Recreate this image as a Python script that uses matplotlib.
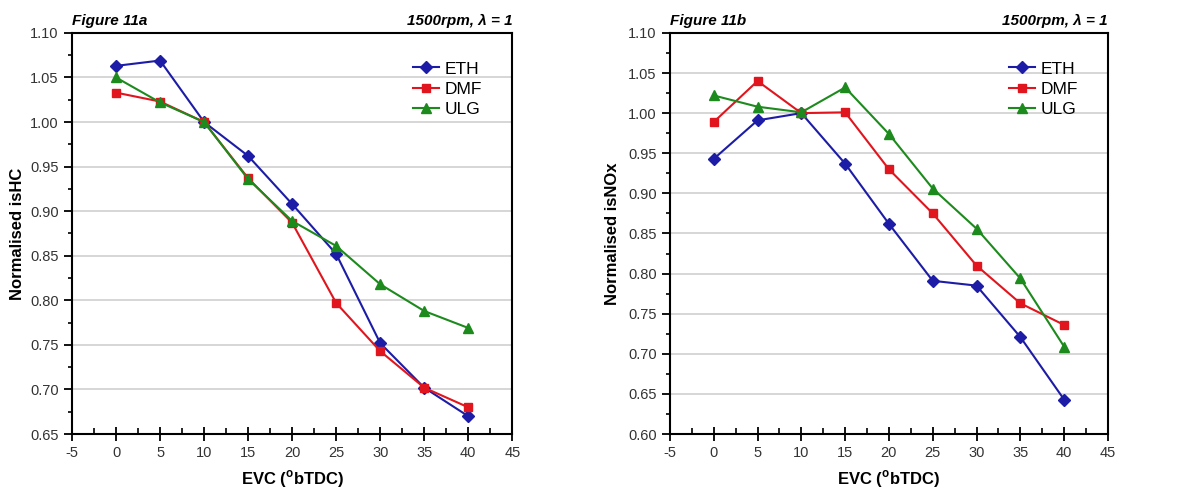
import matplotlib
matplotlib.use("Agg")
import matplotlib.pyplot as plt
from matplotlib.ticker import MultipleLocator, FormatStrFormatter

plt.rcParams['font.family'] = ['Liberation Sans', 'DejaVu Sans']
plt.rcParams['axes.unicode_minus'] = False

evc = [0, 5, 10, 15, 20, 25, 30, 35, 40]

hc_eth = [1.063, 1.069, 1.000, 0.962, 0.908, 0.852, 0.752, 0.702, 0.670]
hc_dmf = [1.033, 1.023, 1.000, 0.937, 0.887, 0.797, 0.743, 0.702, 0.680]
hc_ulg = [1.050, 1.022, 1.000, 0.936, 0.889, 0.861, 0.818, 0.788, 0.769]

nox_eth = [0.943, 0.991, 1.000, 0.937, 0.862, 0.791, 0.785, 0.721, 0.643]
nox_dmf = [0.989, 1.040, 1.000, 1.001, 0.930, 0.875, 0.810, 0.763, 0.736]
nox_ulg = [1.022, 1.008, 1.001, 1.032, 0.974, 0.906, 0.856, 0.794, 0.709]

series_names = ["ETH", "DMF", "ULG"]
colors = ["#1c1ca6", "#e0151d", "#1d8a1d"]
markers = ["D", "s", "^"]
msizes = [6, 5.5, 6.5]

fig = plt.figure(figsize=(11.9, 4.91), dpi=100)

panels = [
    dict(rect=[0.0605, 0.116, 0.370, 0.817], data=[hc_eth, hc_dmf, hc_ulg],
         ylim=(0.65, 1.10), ylabel="Normalised isHC", tag="Figure 11a", lp=4),
    dict(rect=[0.563, 0.116, 0.368, 0.817], data=[nox_eth, nox_dmf, nox_ulg],
         ylim=(0.60, 1.10), ylabel="Normalised isNOx", tag="Figure 11b", lp=6),
]

for p in panels:
    ax = fig.add_axes(p["rect"])
    for name, ys, c, m, ms in zip(series_names, p["data"], colors, markers, msizes):
        ax.plot(evc, ys, color=c, marker=m, markersize=ms, linewidth=1.5, label=name,
                markeredgecolor=c)
    ax.set_xlim(-5, 45)
    ax.set_ylim(*p["ylim"])
    ax.xaxis.set_major_locator(MultipleLocator(5))
    ax.xaxis.set_minor_locator(MultipleLocator(2.5))
    ax.yaxis.set_major_locator(MultipleLocator(0.05))
    ax.yaxis.set_minor_locator(MultipleLocator(0.025))
    ax.yaxis.set_major_formatter(FormatStrFormatter('%.2f'))
    ax.grid(axis='y', which='major', color='#cfcfcf', linewidth=1.2)
    ax.set_axisbelow(True)
    for s in ax.spines.values():
        s.set_linewidth(1.5)
    ax.tick_params(axis='x', which='major', direction='inout', length=10, width=1.3,
                   labelsize=10.5, colors='black', labelcolor='#333333')
    ax.tick_params(axis='x', which='minor', direction='in', length=4, width=1.2)
    ax.tick_params(axis='y', which='major', direction='out', length=6, width=1.3,
                   labelsize=10.5, labelcolor='#333333')
    ax.tick_params(axis='y', which='minor', direction='out', length=3, width=1.2)
    ax.set_xlabel("EVC ($^{\\mathregular{o}}$bTDC)", fontsize=12, fontweight='bold', labelpad=6)
    ax.set_ylabel(p["ylabel"], fontsize=12, fontweight='bold', labelpad=p["lp"])
    ax.text(0.0, 1.012, p["tag"], transform=ax.transAxes, ha='left', va='bottom',
            fontsize=11, fontweight='bold', fontstyle='italic')
    ax.text(1.0, 1.012, "1500rpm, λ = 1", transform=ax.transAxes, ha='right', va='bottom',
            fontsize=11, fontweight='bold', fontstyle='italic')
    ax.legend(loc='upper right', bbox_to_anchor=(0.955, 0.955), frameon=False,
              fontsize=12.5, handlelength=1.5, handletextpad=0.3, labelspacing=0.3,
              borderaxespad=0.2)

fig.savefig("out.png", dpi=100)
